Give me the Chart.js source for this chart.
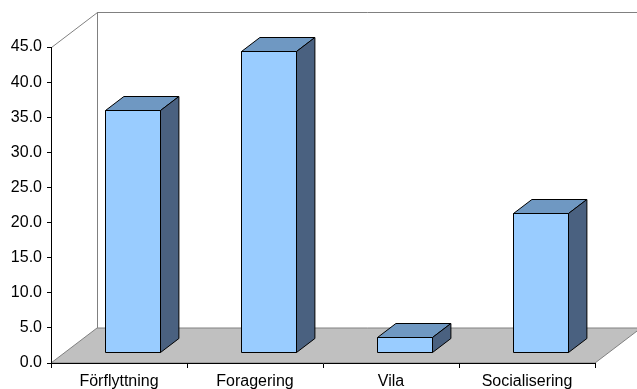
<!DOCTYPE html>
<html>
<head>
<meta charset="utf-8">
<script src="https://cdn.jsdelivr.net/npm/chart.js@4"></script>
<style>
  body { margin: 0; background: #fff; }
</style>
</head>
<body>
<canvas id="chart" width="637" height="389"></canvas>
<script>
  // data
  const categories = ['Förflyttning', 'Foragering', 'Vila', 'Socialisering'];
  const values = [34.5, 42.9, 2.2, 19.8];
  const yMin = 0;
  const yMax = 45;
  const yStep = 5;

  // 3D look (oblique depth of floor and wall)
  const depthX = 46;
  const depthY = -35;
  const frontColor = '#99ccff';
  const topColor = '#6f98c2';
  const sideColor = '#4a6180';

  const threeD = {
    id: 'threeD',
    beforeDraw(chart) {
      const ctx = chart.ctx;
      const { left, right, top, bottom } = chart.chartArea;
      ctx.save();
      // back wall
      ctx.fillStyle = '#ffffff';
      ctx.fillRect(left + depthX, top + depthY, right - left, bottom - top);
      ctx.strokeStyle = '#808080';
      ctx.lineWidth = 1;
      ctx.beginPath();
      ctx.moveTo(left + 0.5, top + 0.5);
      ctx.lineTo(left + depthX + 0.5, top + depthY + 0.5);
      ctx.lineTo(right + depthX, top + depthY + 0.5);
      ctx.moveTo(left + depthX + 0.5, top + depthY);
      ctx.lineTo(left + depthX + 0.5, bottom + depthY);
      ctx.stroke();
      // floor
      ctx.beginPath();
      ctx.moveTo(left, bottom);
      ctx.lineTo(left + depthX, bottom + depthY);
      ctx.lineTo(right + depthX, bottom + depthY);
      ctx.lineTo(right, bottom);
      ctx.closePath();
      ctx.fillStyle = '#c0c0c0';
      ctx.fill();
      ctx.strokeStyle = '#808080';
      ctx.stroke();
      ctx.restore();
    },
    afterDatasetsDraw(chart) {
      const ctx = chart.ctx;
      const fx = depthX * 0.3, fy = depthY * 0.3;
      const bx = depthX * 0.4, by = depthY * 0.4;
      ctx.save();
      ctx.strokeStyle = '#000000';
      ctx.lineWidth = 1;
      ctx.lineJoin = 'round';
      chart.getDatasetMeta(0).data.forEach(bar => {
        const { x, y, base, width } = bar.getProps(['x', 'y', 'base', 'width'], true);
        const x0 = Math.round(x - width / 2 + fx) + 0.5;
        const x1 = Math.round(x + width / 2 + fx) + 0.5;
        const yT = Math.round(y + fy) + 0.5;
        const yB = Math.round(base + fy) + 0.5;
        // front
        ctx.fillStyle = frontColor;
        ctx.fillRect(x0, yT, x1 - x0, yB - yT);
        ctx.strokeRect(x0, yT, x1 - x0, yB - yT);
        // top
        ctx.beginPath();
        ctx.moveTo(x0, yT);
        ctx.lineTo(x0 + bx, yT + by);
        ctx.lineTo(x1 + bx, yT + by);
        ctx.lineTo(x1, yT);
        ctx.closePath();
        ctx.fillStyle = topColor;
        ctx.fill();
        ctx.stroke();
        // side
        ctx.beginPath();
        ctx.moveTo(x1, yT);
        ctx.lineTo(x1 + bx, yT + by);
        ctx.lineTo(x1 + bx, yB + by);
        ctx.lineTo(x1, yB);
        ctx.closePath();
        ctx.fillStyle = sideColor;
        ctx.fill();
        ctx.stroke();
      });
      ctx.restore();
    }
  };

  new Chart(document.getElementById('chart'), {
    type: 'bar',
    data: {
      labels: categories,
      datasets: [{
        data: values,
        backgroundColor: 'rgba(0,0,0,0)',
        borderWidth: 0,
        barPercentage: 0.404,
        categoryPercentage: 1
      }]
    },
    options: {
      responsive: false,
      devicePixelRatio: 1,
      animation: false,
      events: [],
      layout: { padding: { top: 47, right: 42, left: 0, bottom: 0 } },
      plugins: { legend: { display: false }, tooltip: { enabled: false } },
      scales: {
        x: {
          afterFit(s) { s.height = 26; },
          grid: { drawOnChartArea: false, drawTicks: true, tickLength: 5, color: '#000' },
          border: { color: '#000' },
          ticks: {
            color: '#000',
            padding: 4,
            font: { family: '"Liberation Sans", Arial, sans-serif', size: 16 }
          }
        },
        y: {
          min: yMin,
          max: yMax,
          afterFit(s) { s.width = 51; },
          grid: { drawOnChartArea: false, drawTicks: true, tickLength: 4, color: '#000' },
          border: { color: '#000' },
          ticks: {
            stepSize: yStep,
            color: '#000',
            padding: 5,
            callback: v => v.toFixed(1),
            font: { family: '"Liberation Sans", Arial, sans-serif', size: 16 }
          }
        }
      }
    },
    plugins: [threeD]
  });
</script>
</body>
</html>
